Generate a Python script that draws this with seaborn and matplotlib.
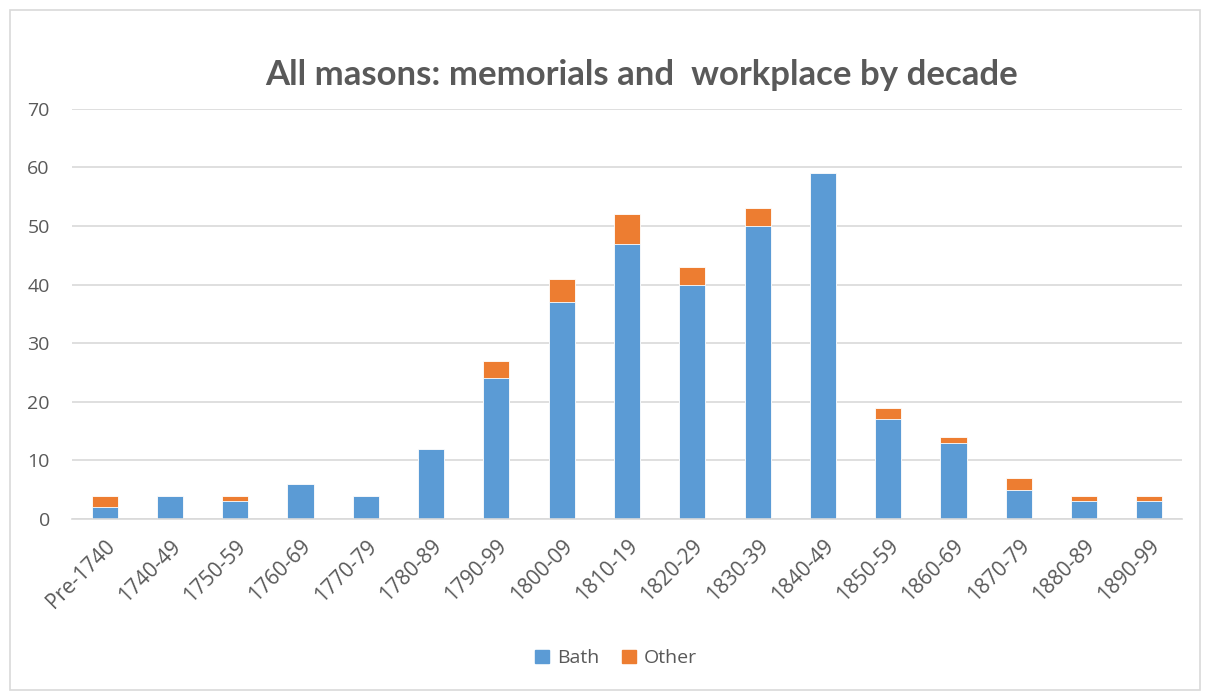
import matplotlib
matplotlib.use("Agg")
import matplotlib.pyplot as plt
import seaborn as sns
import pandas as pd
from matplotlib.patches import Patch, Rectangle

decades = ["Pre-1740", "1740-49", "1750-59", "1760-69", "1770-79", "1780-89", "1790-99",
           "1800-09", "1810-19", "1820-29", "1830-39", "1840-49", "1850-59", "1860-69",
           "1870-79", "1880-89", "1890-99"]
bath = [2, 4, 3, 6, 4, 12, 24, 37, 47, 40, 50, 59, 17, 13, 5, 3, 3]
other = [2, 0, 1, 0, 0, 0, 3, 4, 5, 3, 3, 0, 2, 1, 2, 1, 1]

df = pd.DataFrame({"decade": decades, "Bath": bath, "Other": other})
df["Total"] = df["Bath"] + df["Other"]

sns.set_theme(style="white")
plt.rcParams['font.family'] = ['Open Sans', 'DejaVu Sans']

blue = "#5B9BD5"
orange = "#ED7D31"
grey = "#595959"

fig = plt.figure(figsize=(12.08, 6.93), dpi=100)
ax = fig.add_axes([72/1208, 0.251, 1110/1208, 0.592])

sns.barplot(data=df, x="decade", y="Total", color=orange, width=0.40, ax=ax,
            saturation=1, edgecolor="white", linewidth=0.6)
sns.barplot(data=df, x="decade", y="Bath", color=blue, width=0.40, ax=ax,
            saturation=1, edgecolor="white", linewidth=0.6)

ax.set_ylim(0, 70)
ax.set_yticks(range(0, 71, 10))
ax.set_xlim(-0.5, len(decades) - 0.5)
ax.grid(axis="y", color="#D9D9D9", linewidth=1.2)
ax.set_axisbelow(True)
for s in ["top", "right", "left"]:
    ax.spines[s].set_visible(False)
ax.spines["bottom"].set_color("#D9D9D9")
ax.spines["bottom"].set_linewidth(1.2)
ax.set_xlabel("")
ax.set_ylabel("")
ax.tick_params(axis="y", length=0, labelsize=14, labelcolor=grey, pad=16)
ax.tick_params(axis="x", length=0, labelsize=15, labelcolor=grey, pad=12)
plt.setp(ax.get_xticklabels(), rotation=45, ha="right", rotation_mode="anchor")

fig.text(0.531, 0.892, "All masons: memorials and  workplace by decade", ha="center", va="center",
         fontsize=25, fontweight="bold", color=grey, family=["Lato", "DejaVu Sans"])

handles = [Patch(color=blue, label="Bath"), Patch(color=orange, label="Other")]
fig.legend(handles=handles, loc="center", bbox_to_anchor=(0.51, 0.05), ncol=2, frameon=False,
           fontsize=14, labelcolor=grey, handlelength=0.7, handleheight=0.7, handletextpad=0.4,
           columnspacing=1.2)

fig.patches.append(Rectangle((10/1208, 3/693), 1190/1208, 680/693, transform=fig.transFigure,
                             fill=False, edgecolor="#D9D9D9", linewidth=1.2))

fig.savefig("out.png", dpi=100)
